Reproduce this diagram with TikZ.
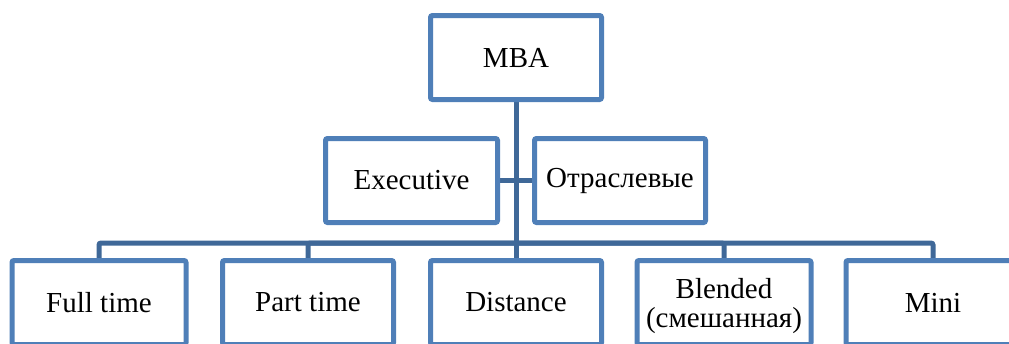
\documentclass[tikz,border=0pt]{standalone}
\usepackage{fontspec}
\setmainfont{Liberation Serif}
\usetikzlibrary{backgrounds}
\definecolor{boxblue}{HTML}{4F7FB8}
\definecolor{linkblue}{HTML}{3F6898}
\tikzset{
  orgbox/.style={draw=boxblue, fill=white, line width=5pt, rounded corners=2pt,
    minimum width=171pt, minimum height=84pt, inner sep=0pt, align=center,
    font=\fontsize{29}{30}\selectfont},
  link/.style={draw=linkblue, line width=5pt, rounded corners=2pt}
}
\begin{document}
\begin{tikzpicture}[x=1pt,y=-1pt]
\useasboundingbox (0,0) rectangle (1009,343);
\begin{scope}
\clip (0,0) rectangle (1009,343);
\node[orgbox] (mba) at (516,57.5) {MBA};
\node[orgbox, minimum width=172pt] (ex) at (411.5,180.5) {Executive};
\node[orgbox] (otr) at (620,180.5) {Отраслевые};
\node[orgbox, minimum width=174pt] (ft) at (99,302.5) {Full time};
\node[orgbox] (pt) at (308,302.5) {Part time};
\node[orgbox] (dist) at (516,302.5) {Distance};
\node[orgbox, minimum width=174pt] (bl) at (724,302.5) {\raisebox{-11pt}[25pt][25pt]{\begin{tabular}{@{}c@{}}Blended\\[-1pt](смешанная)\end{tabular}}};
\node[orgbox, minimum width=174pt] (mini) at (933,302.5) {Mini};
\coordinate (bus) at (516,243);
\begin{scope}[on background layer]
\draw[link] (mba.south) -- (dist.north);
\draw[link] (ex.east) -- (otr.west);
\draw[link] (ft.north) |- (bus);
\draw[link] (pt.north) |- (bus);
\draw[link] (bl.north) |- (bus);
\draw[link] (mini.north) |- (bus);
\end{scope}
\end{scope}
\end{tikzpicture}
\end{document}
